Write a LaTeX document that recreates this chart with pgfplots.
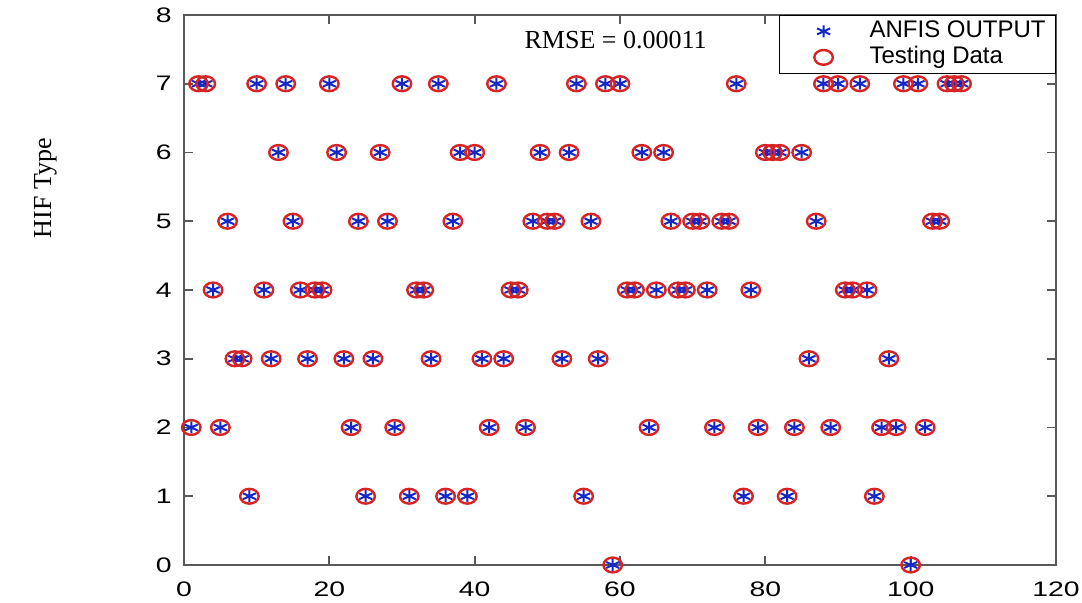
\documentclass[border=0pt]{standalone}
\usepackage{pgfplots}
\pgfplotsset{compat=1.18}
\usepackage{pgfplotstable}
\usepackage{fontspec}
\setmainfont{Liberation Serif}
\newfontfamily\arialfont{Liberation Sans}

\definecolor{ancblue}{RGB}{20,40,200}
\definecolor{ancred}{RGB}{215,35,35}

% sample index vs HIF type (ANFIS output and testing data coincide)
\pgfplotstableread{
x y
1 2
2 7
3 7
4 4
5 2
6 5
7 3
8 3
9 1
10 7
11 4
12 3
13 6
14 7
15 5
16 4
17 3
18 4
19 4
20 7
21 6
22 3
23 2
24 5
25 1
26 3
27 6
28 5
29 2
30 7
31 1
32 4
33 4
34 3
35 7
36 1
37 5
38 6
39 1
40 6
41 3
42 2
43 7
44 3
45 4
46 4
47 2
48 5
49 6
50 5
51 5
52 3
53 6
54 7
55 1
56 5
57 3
58 7
59 0
60 7
61 4
62 4
63 6
64 2
65 4
66 6
67 5
68 4
69 4
70 5
71 5
72 4
73 2
74 5
75 5
76 7
77 1
78 4
79 2
80 6
81 6
82 6
83 1
84 2
85 6
86 3
87 5
88 7
89 2
90 7
91 4
92 4
93 7
94 4
95 1
96 2
97 3
98 2
99 7
100 0
101 7
102 2
103 5
104 5
105 7
106 7
107 7
}\testdata

\begin{document}
\begin{tikzpicture}
\useasboundingbox (-92pt,-19pt) rectangle (449pt,282.5pt);
\begin{axis}[
  scale only axis, width=436pt, height=275pt,
  at={(0,0)}, anchor=south west,
  xmin=0, xmax=120, ymin=0, ymax=8,
  xtick={0,20,...,120}, ytick={0,1,...,8},
  clip=false,
  axis line style={draw=black!65, line width=0.9pt},
  major tick style={draw=black!65, line width=0.9pt},
  major tick length=4.5pt,
  /pgf/number format/assume math mode=true,
  tick label style={font=\arialfont\fontsize{10.5}{12}\selectfont, xscale=1.35},
  xticklabel style={yshift=-5pt},
  yticklabel style={xshift=-1pt},
  legend style={at={(1,1)}, anchor=north east, draw=black, fill=white,
    inner xsep=4pt, inner ysep=1.5pt, column sep=4pt,
    font=\arialfont\fontsize{12}{14}\selectfont,
    nodes={inner sep=1pt, text height=8.5pt, text depth=2.5pt}},
  legend cell align=left,
  legend image code/.code={
    \path[draw=none, fill=none] (0pt,-3pt) rectangle (36pt,3pt);
    \draw[#1, only marks] plot coordinates {(18pt,0pt)};
  },
]
\addplot[only marks, mark=asterisk, mark size=3pt, color=ancblue,
  mark options={xscale=1.25, line width=1pt}] table {\testdata};
\addlegendentry{ANFIS OUTPUT}
\addplot[only marks, mark=o, mark size=3.7pt, color=ancred,
  mark options={xscale=1.25, line width=1.2pt}] table {\testdata};
\addlegendentry{Testing Data}

\node[font=\fontsize{13}{15}\selectfont] at (axis cs:59.4,7.64) {RMSE = 0.00011};
\node[rotate=90, font=\fontsize{13}{15}\selectfont] at (rel axis cs:-0.159,0.685) {HIF Type};
\end{axis}
\end{tikzpicture}
\end{document}
